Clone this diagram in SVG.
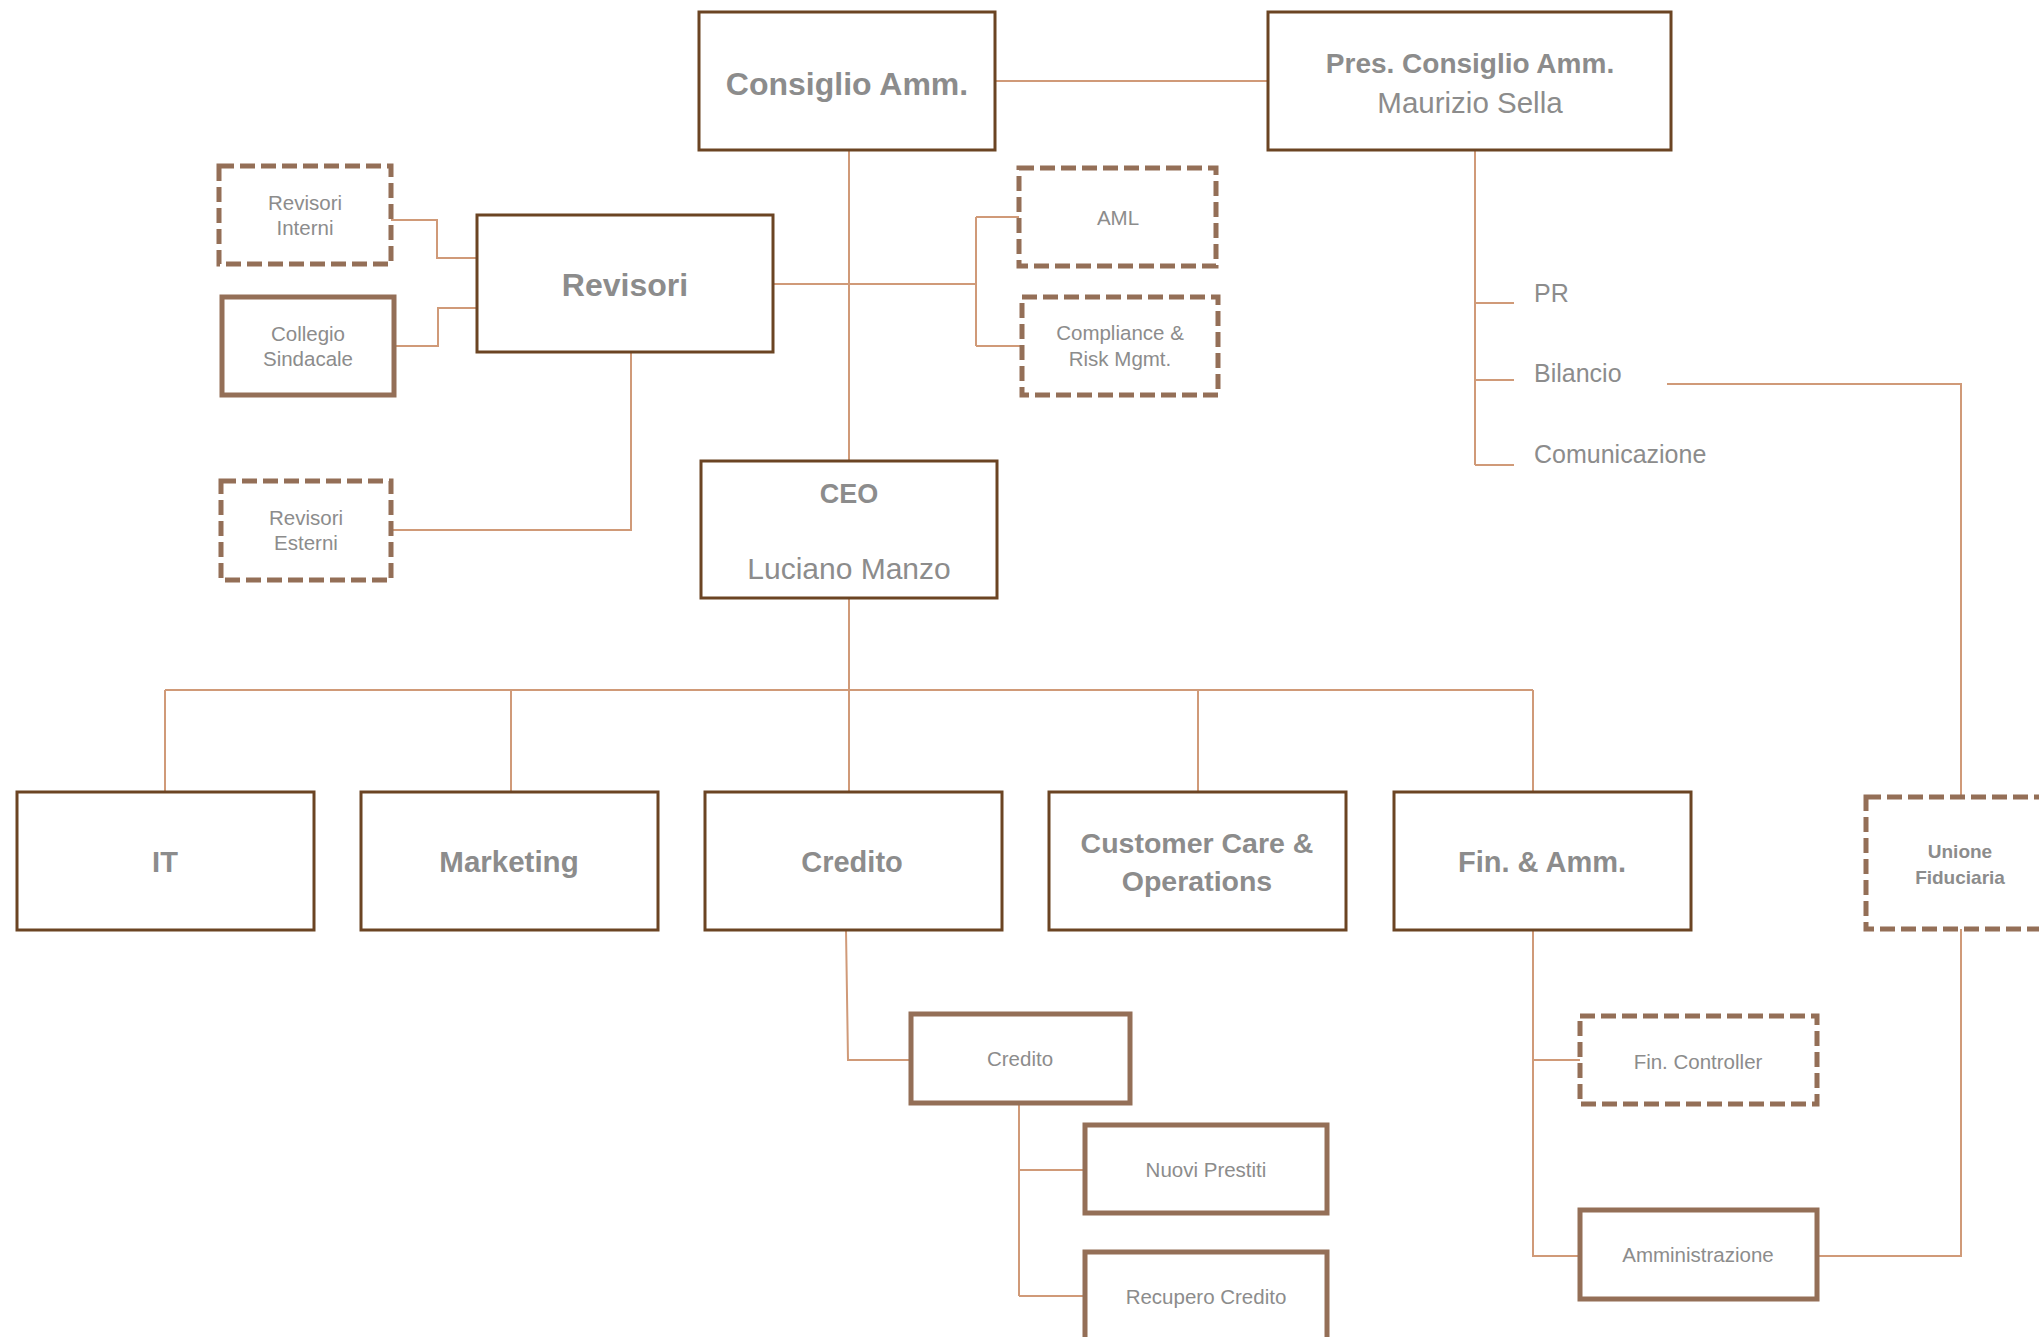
<svg xmlns="http://www.w3.org/2000/svg" width="2039" height="1337" viewBox="0 0 2039 1337">
<style>
.box{fill:#fff;stroke:#6b4423;stroke-width:3}
.dash{fill:#fff;stroke:#946f57;stroke-width:5;stroke-dasharray:15 6}
.thick{fill:#fff;stroke:#946f57;stroke-width:5}
.conn{fill:none;stroke:#d09a78;stroke-width:2}
text{fill:#8c8c8c;font-family:"Liberation Sans",Arial,sans-serif;text-anchor:middle}
.b{font-weight:bold}
.s{font-size:20.5px}
.l{text-anchor:start;font-size:25px}
</style>
<rect width="2039" height="1337" fill="#fff"/>
<g id="connectors">
<path class="conn" d="M995,81 H1268"/>
<path class="conn" d="M849,150 V461"/>
<path class="conn" d="M773,284 H976 M976,217 V346 M976,217 H1019 M976,346 H1022"/>
<path class="conn" d="M391,220 H437 V258 H477"/>
<path class="conn" d="M394,346 H438 V308 H477"/>
<path class="conn" d="M631,352 V530 H391"/>
<path class="conn" d="M1475,150 V465 M1475,303 H1514 M1475,380 H1514 M1475,465 H1514"/>
<path class="conn" d="M1667,384 H1961 V797"/>
<path class="conn" d="M849,598 V792 M165,690 H1533 M165,690 V792 M511,690 V792 M1198,690 V792 M1533,690 V792"/>
<path class="conn" d="M846,930 L848,1060 H911"/>
<path class="conn" d="M1019,1103 V1296 M1019,1170 H1085 M1019,1296 H1085"/>
<path class="conn" d="M1533,930 V1256 H1580 M1533,1060 H1580"/>
<path class="conn" d="M1961,929 V1256 H1817"/>
</g>
<g id="consiglio"><rect class="box" x="699" y="12" width="296" height="138"/><text class="b" x="847" y="95" font-size="32">Consiglio Amm.</text></g>
<g id="presidente"><rect class="box" x="1268" y="12" width="403" height="138"/><text class="b" x="1470" y="73" font-size="28">Pres. Consiglio Amm.</text><text x="1470" y="113" font-size="29.5">Maurizio Sella</text></g>
<g id="revisori"><rect class="box" x="477" y="215" width="296" height="137"/><text class="b" x="625" y="296" font-size="32">Revisori</text></g>
<g id="revisori-interni"><rect class="dash" x="219" y="166" width="172" height="98"/><text class="s" x="305" y="210">Revisori</text><text class="s" x="305" y="235">Interni</text></g>
<g id="collegio-sindacale"><rect class="thick" x="222" y="297" width="172" height="98"/><text class="s" x="308" y="341">Collegio</text><text class="s" x="308" y="366">Sindacale</text></g>
<g id="revisori-esterni"><rect class="dash" x="221" y="481" width="170" height="99"/><text class="s" x="306" y="525">Revisori</text><text class="s" x="306" y="550">Esterni</text></g>
<g id="aml"><rect class="dash" x="1019" y="168" width="197" height="98"/><text class="s" x="1118" y="225">AML</text></g>
<g id="compliance"><rect class="dash" x="1022" y="297" width="196" height="98"/><text class="s" x="1120" y="340">Compliance &amp;</text><text class="s" x="1120" y="366">Risk Mgmt.</text></g>
<g id="pr"><text class="l" x="1534" y="302">PR</text></g>
<g id="bilancio"><text class="l" x="1534" y="382">Bilancio</text></g>
<g id="comunicazione"><text class="l" x="1534" y="463">Comunicazione</text></g>
<g id="ceo"><rect class="box" x="701" y="461" width="296" height="137"/><text class="b" x="849" y="503" font-size="27">CEO</text><text x="849" y="579" font-size="30">Luciano Manzo</text></g>
<g id="it"><rect class="box" x="17" y="792" width="297" height="138"/><text class="b" x="165" y="872" font-size="29">IT</text></g>
<g id="marketing"><rect class="box" x="361" y="792" width="297" height="138"/><text class="b" x="509" y="872" font-size="29.5">Marketing</text></g>
<g id="credito"><rect class="box" x="705" y="792" width="297" height="138"/><text class="b" x="852" y="872" font-size="29">Credito</text></g>
<g id="customer-care"><rect class="box" x="1049" y="792" width="297" height="138"/><text class="b" x="1197" y="853" font-size="28.5">Customer Care &amp;</text><text class="b" x="1197" y="891" font-size="28.5">Operations</text></g>
<g id="fin-amm"><rect class="box" x="1394" y="792" width="297" height="138"/><text class="b" x="1542" y="872" font-size="29">Fin. &amp; Amm.</text></g>
<g id="unione-fiduciaria"><rect class="dash" x="1866" y="797" width="190" height="132"/><text class="b" x="1960" y="858" font-size="19">Unione</text><text class="b" x="1960" y="884" font-size="19">Fiduciaria</text></g>
<g id="credito-sub"><rect class="thick" x="911" y="1014" width="219" height="89"/><text class="s" x="1020" y="1066">Credito</text></g>
<g id="nuovi-prestiti"><rect class="thick" x="1085" y="1125" width="242" height="88"/><text class="s" x="1206" y="1177">Nuovi Prestiti</text></g>
<g id="recupero-credito"><rect class="thick" x="1085" y="1252" width="242" height="88"/><text class="s" x="1206" y="1304">Recupero Credito</text></g>
<g id="fin-controller"><rect class="dash" x="1580" y="1016" width="237" height="88"/><text class="s" x="1698" y="1069">Fin. Controller</text></g>
<g id="amministrazione"><rect class="thick" x="1580" y="1210" width="237" height="89"/><text class="s" x="1698" y="1262">Amministrazione</text></g>
</svg>
